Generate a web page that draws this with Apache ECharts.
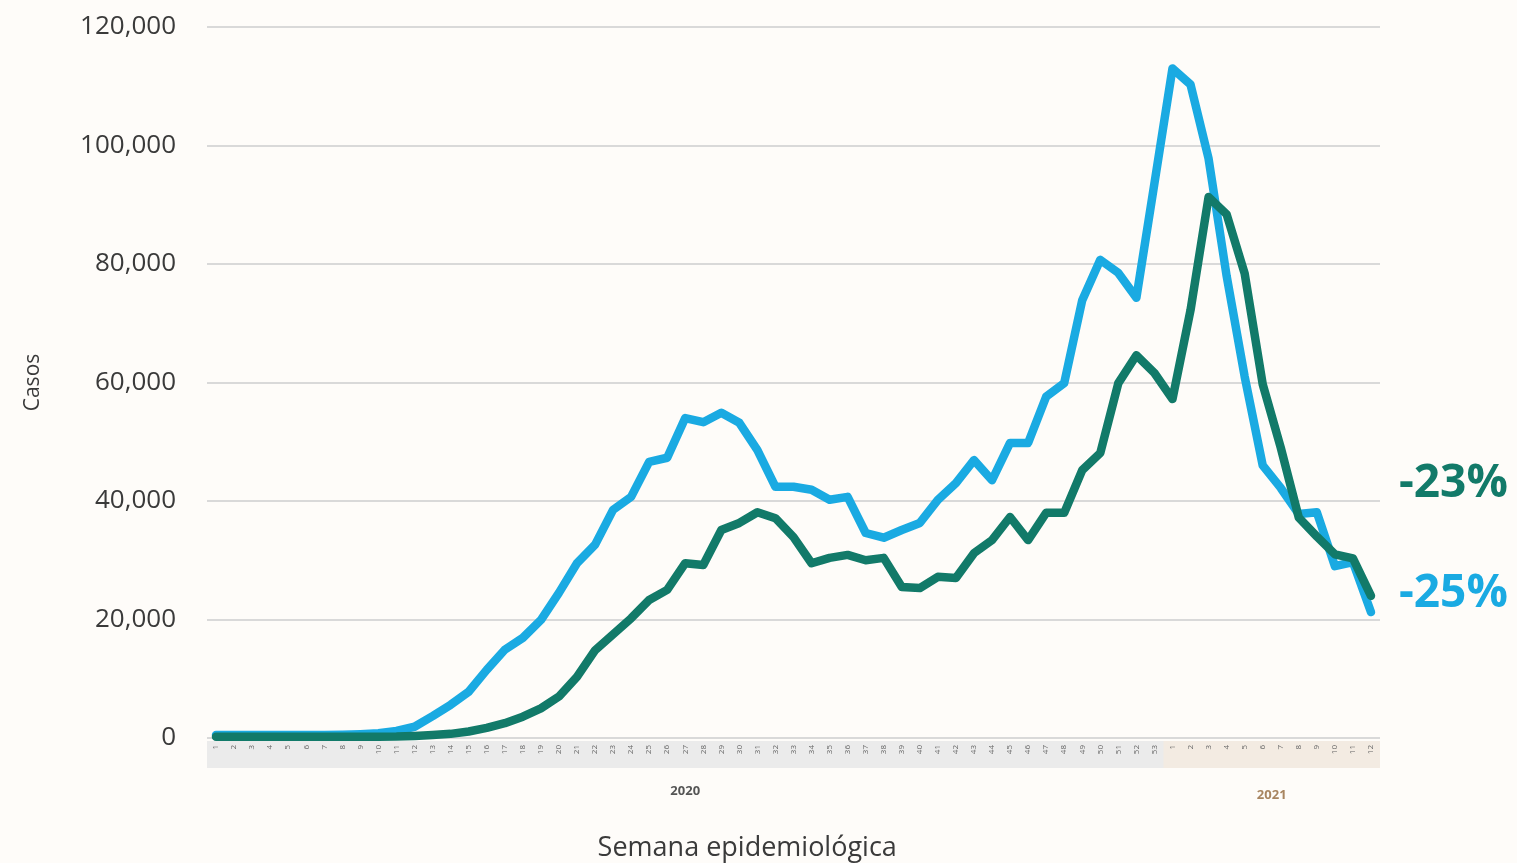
<!DOCTYPE html>
<html>
<head>
<meta charset="utf-8">
<script src="https://cdn.jsdelivr.net/npm/echarts@6/dist/echarts.min.js"></script>
<style>
html,body{margin:0;padding:0;background:#ffffff;}
#chart{width:1517px;height:863px;}
</style>
</head>
<body>
<div id="chart"></div>
<script>
// Epidemiological weeks (2020: 1-53, 2021: 1-12)
const weeks2020 = ['1','2','3','4','5','6','7','8','9','10','11','12','13','14','15','16','17','18','19','20','21','22','23','24','25','26','27','28','29','30','31','32','33','34','35','36','37','38','39','40','41','42','43','44','45','46','47','48','49','50','51','52','53'];
const weeks2021 = ['1','2','3','4','5','6','7','8','9','10','11','12'];
const yearLabels = ['2020', '2021'];

// Light blue series
const serieAzul = [500,500,500,500,500,500,500,550,650,800,1200,1900,3700,5600,7800,11500,14900,16900,19900,24500,29500,32600,38500,40700,46600,47300,54000,53300,54900,53200,48600,42400,42400,41900,40200,40700,34600,33800,35100,36300,40200,43000,46900,43500,49800,49800,57600,59900,73900,80700,78500,74300,93600,113000,110300,97800,78000,61000,46000,42200,37800,38100,29000,29700,21250];
// Dark teal series
const serieVerde = [200,200,200,200,200,200,200,200,200,220,250,350,500,700,1100,1700,2500,3600,5000,7000,10300,14800,17500,20200,23300,25000,29500,29200,35100,36300,38100,37100,33900,29500,30400,30900,30000,30400,25500,25300,27200,27000,31200,33400,37300,33400,38000,38000,45200,48100,59900,64600,61600,57200,72200,91300,88400,78400,59700,49000,37200,34000,31000,30300,24000];

const pctLabels = ['-23%', '-25%'];
const xTitle = 'Semana epidemiológica';

const categories = weeks2020.map(w => '2020-' + w).concat(weeks2021.map(w => '2021-' + w));

const BLUE = '#1aaae2';
const GREEN = '#127a69';
const FONT = 'Open Sans';

const chart = echarts.init(document.getElementById('chart'));
const option = {
  backgroundColor: '#fefcf9',
  animation: false,
  grid: { left: 207, right: 137, top: 27, bottom: 125, containLabel: false, outerBoundsMode: 'none' },
  xAxis: {
    type: 'category',
    data: categories,
    boundaryGap: true,
    axisLine: { show: false },
    axisTick: { show: false },
    axisLabel: {
      interval: 0, rotate: 90, fontSize: 8, color: '#666666', fontFamily: FONT, margin: 7,
      formatter: v => v.split('-')[1]
    },
    splitLine: { show: false }
  },
  yAxis: {
    type: 'value',
    min: 0, max: 120000, interval: 20000,
    name: 'Casos',
    nameLocation: 'middle',
    nameGap: 163,
    nameRotate: 90,
    nameTextStyle: { fontFamily: FONT, fontSize: 21, color: '#3a3a3a' },
    axisLine: { show: false },
    axisTick: { show: false },
    axisLabel: {
      fontFamily: FONT, fontSize: 26, color: '#3a3a3a', margin: 31,
      formatter: v => v.toLocaleString('en-US')
    },
    splitLine: { lineStyle: { color: '#d9d9d9', width: 2 } }
  },
  series: [
    {
      type: 'line', data: serieAzul, symbol: 'none', z: 3,
      lineStyle: { color: BLUE, width: 8.5, cap: 'round', join: 'round' },
      endLabel: {
        show: true, formatter: pctLabels[1], distance: 28, offset: [0, -18],
        fontFamily: FONT, fontWeight: 'bold', fontSize: 46, color: BLUE
      }
    },
    {
      type: 'line', data: serieVerde, symbol: 'none', z: 4,
      lineStyle: { color: GREEN, width: 8.5, cap: 'round', join: 'round' },
      endLabel: {
        show: true, formatter: pctLabels[0], distance: 28, offset: [0, -112],
        fontFamily: FONT, fontWeight: 'bold', fontSize: 46, color: GREEN
      }
    }
  ]
};
chart.setOption(option);

// Band under the axis, year labels and axis title, placed from the axis scales
const n = categories.length;
const xFirst = chart.convertToPixel({ xAxisIndex: 0 }, 0);
const xLast = chart.convertToPixel({ xAxisIndex: 0 }, n - 1);
const step = (xLast - xFirst) / (n - 1);
const y0 = chart.convertToPixel({ yAxisIndex: 0 }, 0);
const x2021 = chart.convertToPixel({ xAxisIndex: 0 }, weeks2020.length) - step / 2;
const mid2020 = (xFirst + chart.convertToPixel({ xAxisIndex: 0 }, weeks2020.length - 1)) / 2;
const mid2021 = (chart.convertToPixel({ xAxisIndex: 0 }, weeks2020.length) + xLast) / 2;

chart.setOption({
  graphic: [
    { type: 'rect', z: -1, silent: true,
      shape: { x: xFirst - step / 2, y: y0 + 3, width: (xLast - xFirst) + step, height: 27 },
      style: { fill: '#ebebeb' } },
    { type: 'rect', z: -1, silent: true,
      shape: { x: x2021, y: y0 + 3, width: xLast + step / 2 - x2021, height: 27 },
      style: { fill: '#f3ebe2' } },
    { type: 'text', silent: true, x: mid2020, y: y0 + 53,
      style: { text: yearLabels[0], fontFamily: FONT, fontSize: 13, fontWeight: 'bold', fill: '#555555', align: 'center', verticalAlign: 'middle' } },
    { type: 'text', silent: true, x: mid2021, y: y0 + 57,
      style: { text: yearLabels[1], fontFamily: FONT, fontSize: 13, fontWeight: 'bold', fill: '#a88560', align: 'center', verticalAlign: 'middle' } },
    { type: 'text', silent: true, x: mid2020 + 62, y: y0 + 110,
      style: { text: xTitle, fontFamily: FONT, fontSize: 27, fill: '#3a3a3a', align: 'center', verticalAlign: 'middle' } }
  ]
});
</script>
</body>
</html>
